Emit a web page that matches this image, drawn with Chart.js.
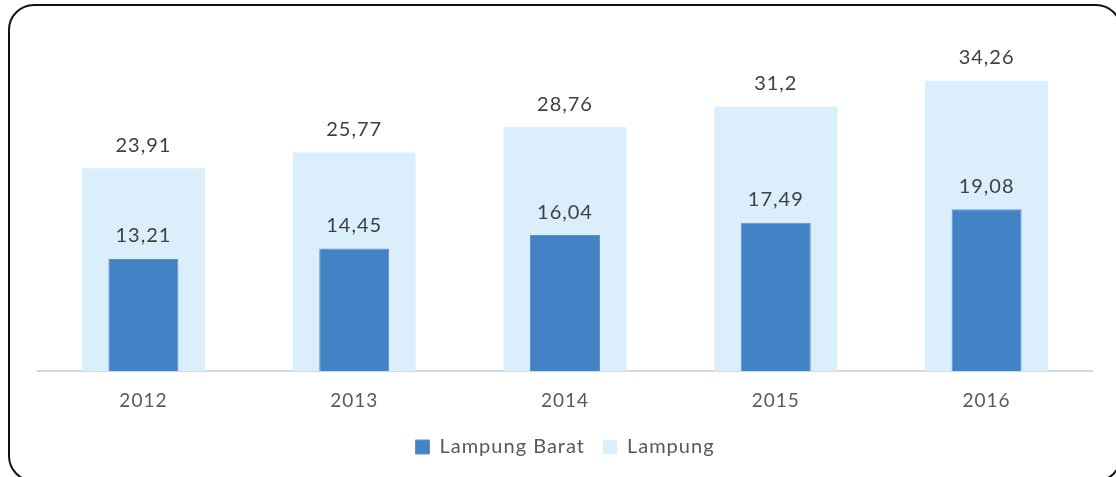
<!DOCTYPE html>
<html>
<head>
<meta charset="utf-8">
<script src="https://cdn.jsdelivr.net/npm/chart.js@4.4.1/dist/chart.umd.min.js"></script>
<style>
    html, body { margin: 0; padding: 0; background: #fff; overflow: hidden; }
    #wrap { position: relative; width: 1116px; height: 477px; }
    #frame {
        position: absolute; left: 8px; top: 4px; width: 1110px; height: 474px;
        border: 2px solid #111; border-radius: 26px; pointer-events: none;
    }
    canvas { position: absolute; left: 0; top: 0; }
</style>
</head>
<body>
<div id="wrap">
    <canvas id="chart" width="1116" height="477"></canvas>
    <div id="frame"></div>
</div>
<script>
// Years on the x axis
const years = ['2012', '2013', '2014', '2015', '2016'];

// Series values
const lampungBarat = [13.21, 14.45, 16.04, 17.49, 19.08];
const lampung = [23.91, 25.77, 28.76, 31.2, 34.26];

const FONT = 'Lato';

// Slightly wider text, like the original's rendering
const spacing = {
    id: 'spacing',
    beforeUpdate(chart) { chart.ctx.letterSpacing = '1px'; },
    beforeDraw(chart) { chart.ctx.letterSpacing = '1px'; }
};

// Value labels above each bar, with a decimal comma
const valueLabels = {
    id: 'valueLabels',
    afterDatasetsDraw(chart) {
        const ctx = chart.ctx;
        ctx.save();
        ctx.font = '20px ' + FONT;
        ctx.fillStyle = '#404040';
        ctx.textAlign = 'center';
        ctx.textBaseline = 'middle';
        chart.data.datasets.forEach((ds, i) => {
            chart.getDatasetMeta(i).data.forEach((bar, j) => {
                const txt = String(ds.data[j]).replace('.', ',');
                ctx.fillText(txt, bar.x, bar.y - 23);
            });
        });
        ctx.restore();
    }
};

const ctx = document.getElementById('chart').getContext('2d');
new Chart(ctx, {
    type: 'bar',
    data: {
        labels: years,
        datasets: [
            {
                label: 'Lampung Barat',
                data: lampungBarat,
                backgroundColor: '#4382C5',
                borderColor: '#5B93CF',
                borderWidth: 1,
                grouped: false,
                barPercentage: 0.332,
                categoryPercentage: 1
            },
            {
                label: 'Lampung',
                data: lampung,
                backgroundColor: '#DAEEFB',
                borderWidth: 0,
                grouped: false,
                barPercentage: 0.583,
                categoryPercentage: 1
            }
        ]
    },
    options: {
        responsive: false,
        animation: false,
        layout: { padding: { left: 38, right: 24, top: 32, bottom: 10 } },
        scales: {
            x: {
                grid: { display: false, drawTicks: false },
                border: { display: true, color: '#D9D9D9', width: 2 },
                ticks: { color: '#595959', font: { family: FONT, size: 19 }, padding: 18 },
                afterFit(scale) { scale.height = 48; }
            },
            y: {
                display: false,
                min: 0,
                max: 40
            }
        },
        plugins: {
            legend: {
                position: 'bottom',
                labels: {
                    color: '#595959',
                    font: { family: FONT, size: 20 },
                    boxWidth: 14,
                    boxHeight: 14,
                    padding: 18
                }
            },
            tooltip: { enabled: false }
        }
    },
    plugins: [spacing, valueLabels]
});
</script>
</body>
</html>
